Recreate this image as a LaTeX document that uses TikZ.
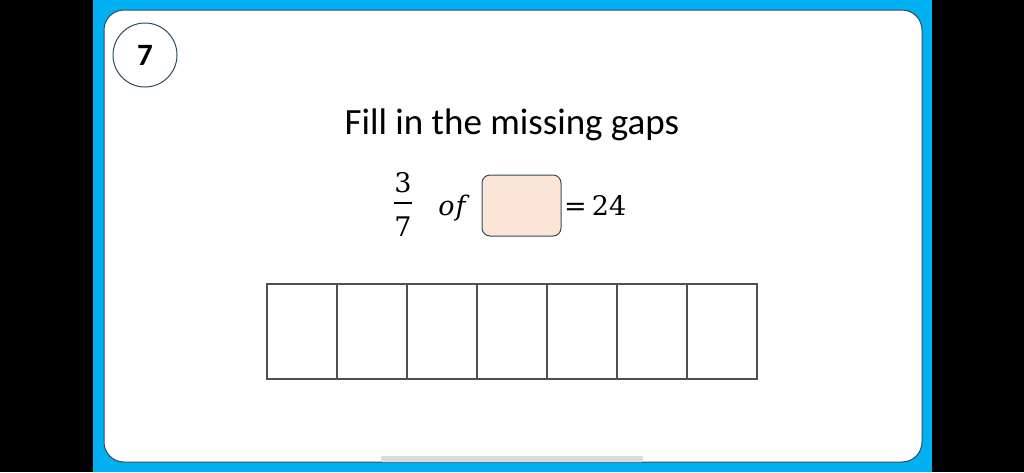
\documentclass[tikz,border=0pt]{standalone}
\usepackage{fontspec}
\setmainfont{Carlito}
\newfontfamily\eqfont{DejaVu Serif}
\definecolor{bgblue}{HTML}{00B0F0}
\definecolor{edge}{HTML}{2F4A5E}
\definecolor{peach}{HTML}{FBE5D6}
\definecolor{cellline}{HTML}{505050}
\definecolor{barg}{HTML}{DCDCDC}
\tikzset{
  card/.style={draw=edge, line width=1pt, fill=white, rounded corners=20pt},
  numcircle/.style={circle, draw=edge, line width=1pt, minimum size=64pt, inner sep=0pt, font=\fontsize{31}{33}\selectfont\bfseries},
  answerbox/.style={draw=edge, line width=1pt, fill=peach, rounded corners=8pt, minimum width=79pt, minimum height=61pt, inner sep=0pt},
  cell/.style={draw=cellline, line width=1.2pt, minimum width=70pt, minimum height=95pt, inner sep=0pt},
  mathtxt/.style={inner sep=0pt, font=\eqfont\fontsize{27}{29}\selectfont}
}
\begin{document}
\begin{tikzpicture}[x=1pt,y=-1pt]
\useasboundingbox (0,0) rectangle (1024,472);
\fill[black] (0,0) rectangle (1024,472);
\fill[bgblue] (93,0) rectangle (932,472);
\draw[card] (104,10) rectangle (922,462);
\fill[barg, rounded corners=2pt] (381,456) rectangle (643,462);
\node[numcircle] (num) at (145,55) {7};
\node[inner sep=0pt, font=\fontsize{37}{40}\selectfont] (title) at (512,125) {Fill in the missing gaps};
\node[mathtxt] (numer) at (403,182.5) {3};
\node[mathtxt] (denom) at (403,226.5) {7};
\draw[line width=2pt] (394,203) -- (412,203);
\node[mathtxt, anchor=base] (of) at (452,215) {\itshape o\kern1pt f};
\node[answerbox] (ans) at (521.5,205.5) {};
\node[mathtxt, anchor=base west] (eq) at (564,215) {=\kern5pt 24};
\foreach \i in {0,...,6} {
  \node[cell] (c\i) at ({302+70*\i},331.5) {};
}
\end{tikzpicture}
\end{document}
